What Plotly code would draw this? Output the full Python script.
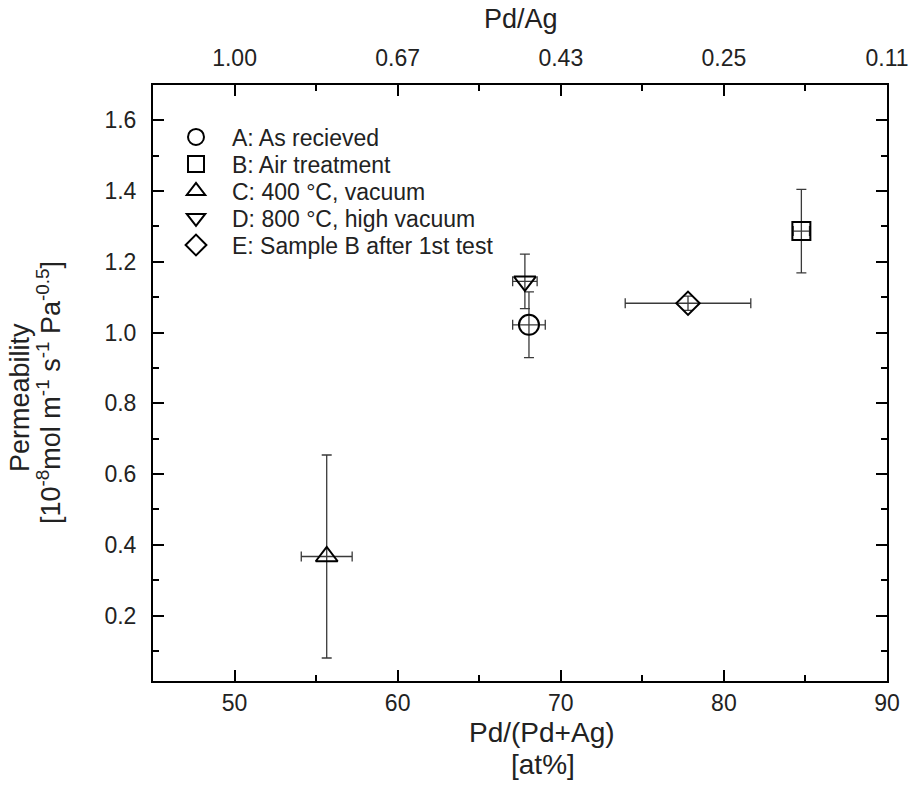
import plotly.graph_objects as go

names = ["A: As recieved", "B: Air treatment", "C: 400 °C, vacuum",
         "D: 800 °C, high vacuum", "E: Sample B after 1st test"]
symbols = ["circle-open", "square-open", "triangle-up-open", "triangle-down-open", "diamond-open"]
sizes = [20, 18, 19, 19, 18]
pd_at = [68.05, 84.75, 55.65, 67.8, 77.8]
pd_at_err = [1.0, 0.5, 1.56, 0.75, 3.85]
perm = [1.022, 1.287, 0.367, 1.145, 1.083]
perm_err = [0.093, 0.118, 0.287, 0.077, 0.02]

x_ticks = [50, 60, 70, 80, 90]
top_ticktext = ["1.00", "0.67", "0.43", "0.25", "0.11"]
x_minor = [55, 65, 75, 85]

FONT = "Arial, Liberation Sans, sans-serif"
TXT = "#222"
W, H = 911, 788
ML, MR, MT, MB = 153, 24, 85, 107
PW, PH = W - ML - MR, H - MT - MB


def px(xpix):
    return (xpix - ML) / PW


def py(ypix):
    return (H - MB - ypix) / PH


legend_rows_px = [137, 164, 191, 218, 245]
legend_keys = ["legend", "legend2", "legend3", "legend4", "legend5"]

fig = go.Figure()
for i in range(len(names)):
    fig.add_trace(go.Scatter(
        x=[pd_at[i]], y=[perm[i]], mode="markers", name=names[i],
        legend=legend_keys[i],
        marker=dict(symbol=symbols[i], size=sizes[i], color="black",
                    line=dict(color="black", width=2)),
        error_x=dict(type="data", array=[pd_at_err[i]], color="#3a3a3a", thickness=1.3, width=5),
        error_y=dict(type="data", array=[perm_err[i]], color="#3a3a3a", thickness=1.3, width=5),
    ))
# empty trace so that the mirrored top (Pd/Ag) and right axes are rendered
fig.add_trace(go.Scatter(x=[], y=[], xaxis="x2", yaxis="y2", showlegend=False, hoverinfo="skip"))

legends = {}
for i, key in enumerate(legend_keys):
    legends[key] = dict(x=px(160), y=py(legend_rows_px[i]), xanchor="left", yanchor="middle",
                        bgcolor="rgba(0,0,0,0)", borderwidth=0,
                        font=dict(family=FONT, size=23, color=TXT), itemwidth=62)

tick_common = dict(showline=True, linecolor="black", linewidth=2,
                   ticks="inside", ticklen=11, tickwidth=1.5, tickcolor="black",
                   showgrid=False, zeroline=False, automargin=False,
                   tickfont=dict(family=FONT, size=23, color=TXT))

fig.update_layout(
    width=W, height=H,
    margin=dict(l=ML, r=MR, t=MT, b=MB),
    plot_bgcolor="white", paper_bgcolor="white",
    font=dict(family=FONT, color=TXT),
    showlegend=True,
    **legends,
    xaxis=dict(range=[45, 90], tickvals=x_ticks,
               minor=dict(ticks="inside", ticklen=6, tickvals=x_minor, tickcolor="black", tickwidth=1.5),
               ticklabelstandoff=0, **tick_common),
    xaxis2=dict(range=[45, 90], overlaying="x", side="top", anchor="y2",
                tickvals=x_ticks, ticktext=top_ticktext,
                minor=dict(ticks="inside", ticklen=6, tickvals=x_minor, tickcolor="black", tickwidth=1.5),
                ticklabelstandoff=8, **tick_common),
    yaxis=dict(range=[0.015, 1.7], tick0=0, dtick=0.2, tickformat=".1f",
               minor=dict(ticks="inside", ticklen=6, dtick=0.1, tick0=0, tickcolor="black", tickwidth=1.5),
               ticklabelstandoff=10, **tick_common),
    yaxis2=dict(range=[0.015, 1.7], overlaying="y", side="right", anchor="x2",
                tick0=0, dtick=0.2, showticklabels=False,
                minor=dict(ticks="inside", ticklen=6, dtick=0.1, tick0=0, tickcolor="black", tickwidth=1.5),
                **tick_common),
    annotations=[
        dict(text="Pd/(Pd+Ag)", xref="paper", yref="paper", x=px(542), y=py(732),
             xanchor="center", yanchor="middle", showarrow=False,
             font=dict(family=FONT, size=28, color=TXT)),
        dict(text="[at%]", xref="paper", yref="paper", x=px(543), y=py(764),
             xanchor="center", yanchor="middle", showarrow=False,
             font=dict(family=FONT, size=28, color=TXT)),
        dict(text="Pd/Ag", xref="paper", yref="paper", x=px(521), y=py(19),
             xanchor="center", yanchor="middle", showarrow=False,
             font=dict(family=FONT, size=27, color=TXT)),
        dict(text="Permeability", xref="paper", yref="paper", x=px(20), y=py(398),
             xanchor="center", yanchor="middle", showarrow=False, textangle=-90,
             font=dict(family=FONT, size=27, color=TXT)),
        dict(text="[10<sup>-8</sup>mol m<sup>-1</sup> s<sup>-1</sup> Pa<sup>-0.5</sup>]",
             xref="paper", yref="paper", x=px(49), y=py(392),
             xanchor="center", yanchor="middle", showarrow=False, textangle=-90,
             font=dict(family=FONT, size=27, color=TXT)),
    ],
)
fig.write_html("out.html")
